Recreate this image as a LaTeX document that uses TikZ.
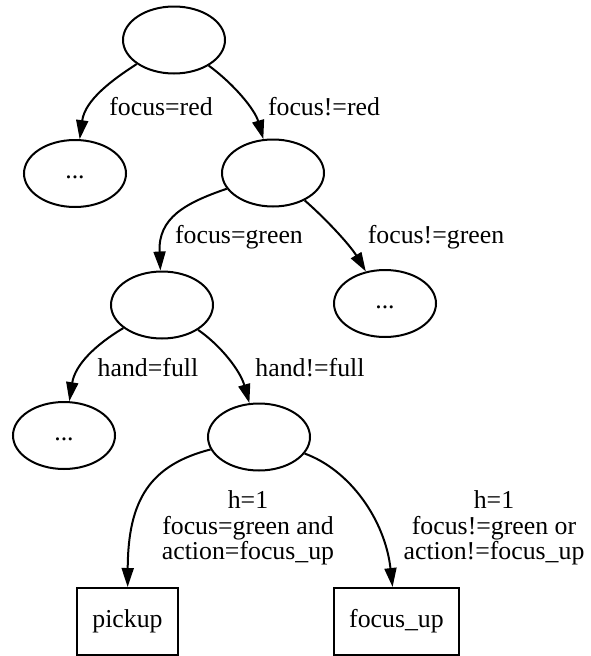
\documentclass[tikz,border=0pt]{standalone}
\usepackage{fontspec}
\setmainfont{Liberation Serif}
\usetikzlibrary{shapes.geometric,arrows.meta}
\begin{document}
\begin{tikzpicture}[x=1pt,y=-1pt,
  every node/.style={font=\fontsize{25.8}{25.5}\selectfont},
  state/.style={ellipse,draw,line width=2pt,minimum width=102pt,minimum height=67pt,inner sep=0pt},
  leaf/.style={rectangle,draw,line width=2pt,minimum height=67pt,inner sep=0pt},
  cond/.style={align=center,inner sep=0pt},
  edge/.style={line width=2pt,-{Triangle[length=19pt,width=12pt]}}]
\useasboundingbox (0,0) rectangle (590,656);

% decision nodes
\node[state] (root) at (174,40) {};
\node[state] (a) at (75,173.5) {\strut...};
\node[state] (b) at (273,173) {};
\node[state] (c) at (162,305) {};
\node[state] (d) at (385,303.5) {\strut...};
\node[state] (e) at (64,435.5) {\strut...};
\node[state] (f) at (259,437) {};

% actions
\node[leaf,minimum width=101pt] (pick) at (127.5,621.5) {\raisebox{-6pt}{pickup}};
\node[leaf,minimum width=125pt] (fup) at (396.5,621.5) {\raisebox{-6pt}{focus\_up}};

% branches
\draw[edge] (root) .. controls (112,80) and (85,100) .. (a);
\draw[edge] (root) .. controls (235,85) and (255,110) .. (b);
\draw[edge] (b) .. controls (185,203) and (158,218) .. (c);
\draw[edge] (b) .. controls (325,218) and (350,245) .. (d);
\draw[edge] (c) .. controls (95,345) and (75,365) .. (e);
\draw[edge] (c) .. controls (220,345) and (240,370) .. (f);
\draw[edge] (f) .. controls (150,465) and (128,500) .. (pick);
\draw[edge] (f) .. controls (350,470) and (385,520) .. (fup);

% branch conditions
\node[cond] (l1) at (161,107) {focus=red};
\node[cond] (l2) at (324,107) {focus!=red};
\node[cond] (l3) at (239,237) {focus=green};
\node[cond] (l4) at (436,237) {focus!=green};
\node[cond] (l5) at (148,368) {hand=full};
\node[cond] (l6) at (310,368) {hand!=full};
\node[cond] (l7) at (248,528) {h=1\\focus=green and\\action=focus\_up};
\node[cond] (l8) at (494,528) {h=1\\focus!=green or\\action!=focus\_up};
\end{tikzpicture}
\end{document}
